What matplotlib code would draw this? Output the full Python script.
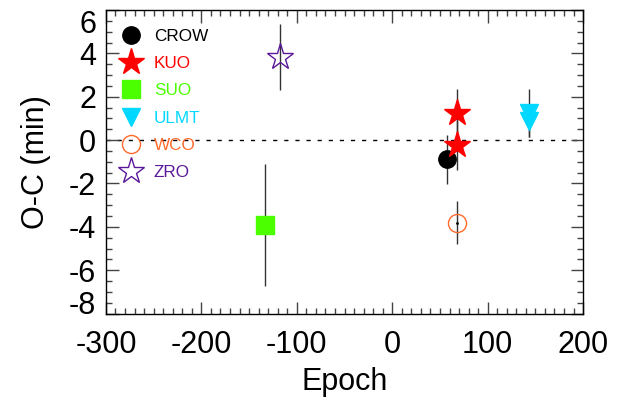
import matplotlib
matplotlib.use("Agg")
import matplotlib.pyplot as plt
from matplotlib.ticker import MultipleLocator

plt.rcParams['font.family'] = ['Liberation Sans', 'DejaVu Sans']
plt.rcParams['axes.unicode_minus'] = False

# Data (epoch, O-C in min, error)
crow_epoch = [57]
crow_oc = [-0.89]
crow_err = [1.12]

kuo_epoch = [67.5, 67.5]
kuo_oc = [1.23, -0.23]
kuo_err = [1.12, 1.15]

suo_epoch = [-133]
suo_oc = [-3.92]
suo_err = [2.8]

ulmt_epoch = [143.5, 143.5]
ulmt_oc = [1.25, 0.88]
ulmt_err = [1.1, 0.74]

wco_epoch = [67.5]
wco_oc = [-3.81]
wco_err = [1.0]

zro_epoch = [-117.5]
zro_oc = [3.84]
zro_err = [1.52]

labels = ['CROW', 'KUO', 'SUO', 'ULMT', 'WCO', 'ZRO']
colors = ['#000000', '#ff0000', '#4cff00', '#00d8ff', '#ff6a2a', '#5a189a']

fig = plt.figure(figsize=(6.38, 4.0), dpi=100)
ax = fig.add_axes([0.166, 0.216, 0.748, 0.759])

ax.set_xlim(-300, 200)
ax.set_ylim(-8, 6)

ax.axhline(0, color='black', lw=1.0, ls=(0, (3, 5)), zorder=1)

ebkw = dict(ls='none', ecolor='#333333', elinewidth=1.0, capsize=0, zorder=2)

styles = [
    dict(marker='o', color=colors[0], ms=12.5),
    dict(marker='*', color=colors[1], ms=20),
    dict(marker='s', color=colors[2], ms=13),
    dict(marker='v', color=colors[3], ms=12.5),
    dict(marker='o', mfc='none', mec=colors[4], mew=1.0, ms=13),
    dict(marker='*', mfc='none', mec=colors[5], mew=1.0, ms=20),
]

series = [
    (crow_epoch, crow_oc, crow_err),
    (kuo_epoch, kuo_oc, kuo_err),
    (suo_epoch, suo_oc, suo_err),
    (ulmt_epoch, ulmt_oc, ulmt_err),
    (wco_epoch, wco_oc, wco_err),
    (zro_epoch, zro_oc, zro_err),
]

for (ep, oc, er), st in zip(series, styles):
    ax.errorbar(ep, oc, yerr=er, marker='none', **ebkw)
    ax.plot(ep, oc, ls='none', zorder=3, **st)
ax.plot(wco_epoch, wco_oc, '.', color='black', ms=2, ls='none', zorder=4)

# legend drawn as marker + coloured text rows
x_mark, x_text = 0.0518, 0.1006
y0, dy = 0.918, 0.0899
for i, (lab, col, st) in enumerate(zip(labels, colors, styles)):
    y = y0 - i * dy
    ax.plot([x_mark], [y], transform=ax.transAxes, ls='none', clip_on=False,
            zorder=5, **st)
    ax.text(x_text, y, lab, transform=ax.transAxes, color=col, fontsize=12.3,
            va='center_baseline', ha='left', zorder=5)

ax.xaxis.set_major_locator(MultipleLocator(100))
ax.xaxis.set_minor_locator(MultipleLocator(10))
ax.yaxis.set_major_locator(MultipleLocator(2))
ax.yaxis.set_minor_locator(MultipleLocator(0.5))

ax.tick_params(which='both', direction='in', top=True, right=True, color='#444444')
ax.tick_params(which='major', length=9, width=1.0, labelsize=22)
ax.tick_params(axis='x', which='major', pad=12)
ax.tick_params(axis='y', which='major', pad=7)
ax.tick_params(which='minor', length=4.5, width=1.0)

for s in ax.spines.values():
    s.set_linewidth(1.0)

ax.set_xlabel('Epoch', fontsize=22, labelpad=5)
ax.set_ylabel('O-C (min)', fontsize=22, labelpad=13)

fig.canvas.draw()
ymin, ymax = ax.get_ylim()
for tick in ax.yaxis.get_major_ticks():
    loc = tick.get_loc()
    if abs(loc - ymax) < 1e-6:
        tick.label1.set_verticalalignment('top')
    elif abs(loc - ymin) < 1e-6:
        tick.label1.set_verticalalignment('baseline')

fig.savefig('out.png', dpi=100)
